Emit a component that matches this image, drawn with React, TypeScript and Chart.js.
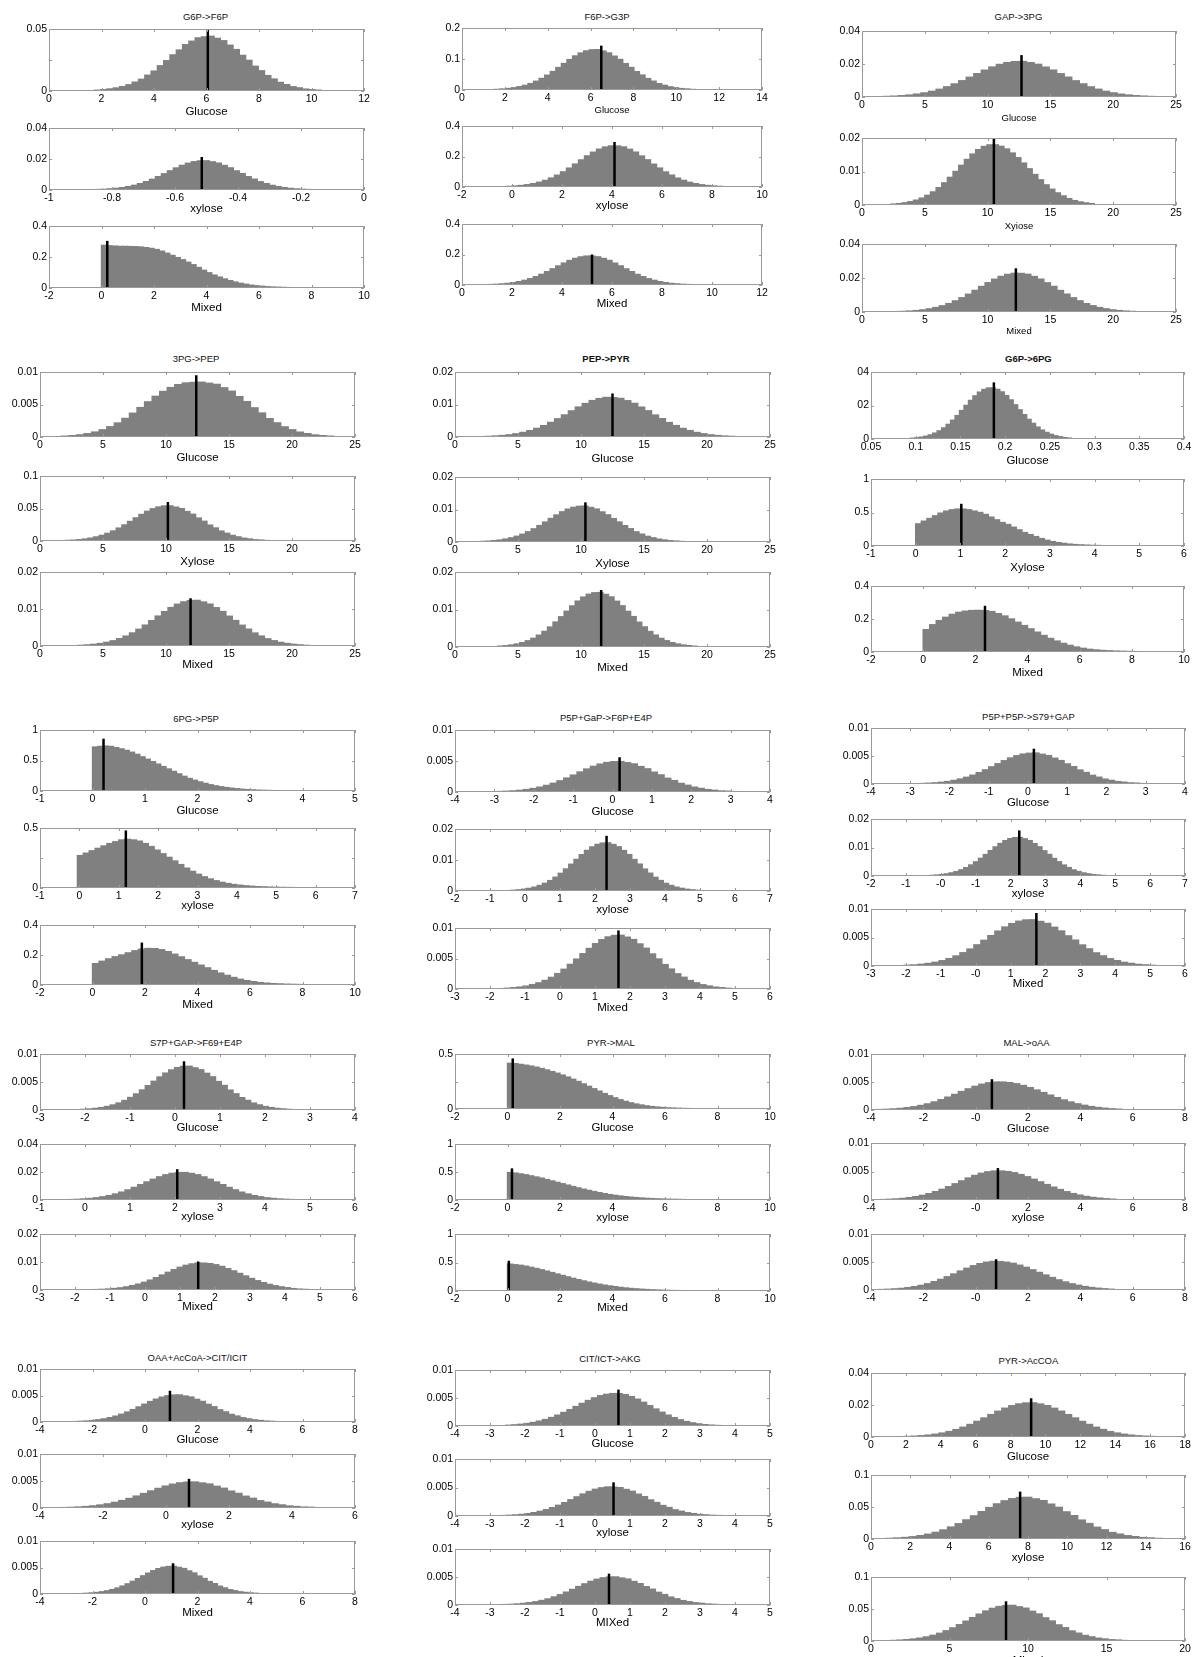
import React, { useEffect, useRef } from "react";
import { Chart, registerables } from "chart.js";

Chart.register(...registerables);

const FONT = "'Liberation Sans', Arial, Helvetica, sans-serif";
const FRAME = "#9a9a9a";
const BAR = "#808080";

// ---------------- titles & axis labels ----------------
const REACTIONS = [
  "G6P->F6P", "F6P->G3P", "GAP->3PG",
  "3PG->PEP", "PEP->PYR", "G6P->6PG",
  "6PG->P5P", "P5P+GaP->F6P+E4P", "P5P+P5P->S79+GAP",
  "S7P+GAP->F69+E4P", "PYR->MAL", "MAL->oAA",
  "OAA+AcCoA->CIT/ICIT", "CIT/ICT->AKG", "PYR->AcCOA",
];
const BOLD_TITLES = ["PEP->PYR", "G6P->6PG"];
const XLABELS = [
  ["Glucose", "xylose", "Mixed"], ["Glucose", "xylose", "Mixed"], ["Glucose", "Xyiose", "Mixed"],
  ["Glucose", "Xylose", "Mixed"], ["Glucose", "Xylose", "Mixed"], ["Glucose", "Xylose", "Mixed"],
  ["Glucose", "xylose", "Mixed"], ["Glucose", "xylose", "Mixed"], ["Glucose", "xylose", "Mixed"],
  ["Glucose", "xylose", "Mixed"], ["Glucose", "xylose", "Mixed"], ["Glucose", "xylose", ""],
  ["Glucose", "xylose", "Mixed"], ["Glucose", "xylose", "MIXed"], ["Glucose", "xylose", "Mixed"],
];

// ---------------- tick label sets ----------------
const T_0_12 = ["0", "2", "4", "6", "8", "10", "12"];
const T_M1_0 = ["-1", "-0.8", "-0.6", "-0.4", "-0.2", "0"];
const T_M2_10 = ["-2", "0", "2", "4", "6", "8", "10"];
const T_0_14 = ["0", "2", "4", "6", "8", "10", "12", "14"];
const T_0_25 = ["0", "5", "10", "15", "20", "25"];
const T_005_04 = ["0.05", "0.1", "0.15", "0.2", "0.25", "0.3", "0.35", "0.4"];
const T_M1_6 = ["-1", "0", "1", "2", "3", "4", "5", "6"];
const T_M1_5 = ["-1", "0", "1", "2", "3", "4", "5"];
const T_M1_7 = ["-1", "0", "1", "2", "3", "4", "5", "6", "7"];
const T_M4_4 = ["-4", "-3", "-2", "-1", "0", "1", "2", "3", "4"];
const T_M2_7 = ["-2", "-1", "0", "1", "2", "3", "4", "5", "6", "7"];
const T_M3_6 = ["-3", "-2", "-1", "0", "1", "2", "3", "4", "5", "6"];
const T_M2_7_B = ["-2", "-1", "-0", "-1", "2", "3", "4", "5", "6", "7"];
const T_M3_6_B = ["-3", "-2", "-1", "-0", "1", "2", "3", "4", "5", "6"];
const T_M3_4 = ["-3", "-2", "-1", "0", "1", "2", "3", "4"];
const T_M4_8 = ["-4", "-2", "0", "2", "4", "6", "8"];
const T_M4_8_B = ["-4", "-2", "-0", "2", "4", "6", "8"];
const T_M4_6 = ["-4", "-2", "0", "2", "4", "6"];
const T_M4_5 = ["-4", "-3", "-2", "-1", "0", "1", "2", "3", "4", "5"];
const T_0_18 = ["0", "2", "4", "6", "8", "10", "12", "14", "16", "18"];
const T_0_16 = ["0", "2", "4", "6", "8", "10", "12", "14", "16"];
const T_0_20 = ["0", "5", "10", "15", "20"];

const Y_005 = ["0", "", "0.05"];
const Y_004 = ["0", "0.02", "0.04"];
const Y_04 = ["0", "0.2", "0.4"];
const Y_02 = ["0", "0.1", "0.2"];
const Y_002 = ["0", "0.01", "0.02"];
const Y_001 = ["0", "0.005", "0.01"];
const Y_01 = ["0", "0.05", "0.1"];
const Y_04B = ["0", "02", "04"];
const Y_1 = ["0", "0.5", "1"];
const Y_05 = ["0", "", "0.5"];

// per panel (15 reactions x Glucose / xylose / Mixed)
const X_TICKS = [
  T_0_12, T_M1_0, T_M2_10,
  T_0_14, T_M2_10, T_0_12,
  T_0_25, T_0_25, T_0_25,
  T_0_25, T_0_25, T_0_25,
  T_0_25, T_0_25, T_0_25,
  T_005_04, T_M1_6, T_M2_10,
  T_M1_5, T_M1_7, T_M2_10,
  T_M4_4, T_M2_7, T_M3_6,
  T_M4_4, T_M2_7_B, T_M3_6_B,
  T_M3_4, T_M1_6, T_M3_6,
  T_M2_10, T_M2_10, T_M2_10,
  T_M4_8_B, T_M4_8_B, T_M4_8_B,
  T_M4_8, T_M4_6, T_M4_8,
  T_M4_5, T_M4_5, T_M4_5,
  T_0_18, T_0_16, T_0_20,
];
const X_RANGES = [
  [0, 12], [-1, 0], [-2, 10],
  [0, 14], [-2, 10], [0, 12],
  [0, 25], [0, 25], [0, 25],
  [0, 25], [0, 25], [0, 25],
  [0, 25], [0, 25], [0, 25],
  [0.05, 0.4], [-1, 6], [-2, 10],
  [-1, 5], [-1, 7], [-2, 10],
  [-4, 4], [-2, 7], [-3, 6],
  [-4, 4], [-2, 7], [-3, 6],
  [-3, 4], [-1, 6], [-3, 6],
  [-2, 10], [-2, 10], [-2, 10],
  [-4, 8], [-4, 8], [-4, 8],
  [-4, 8], [-4, 6], [-4, 8],
  [-4, 5], [-4, 5], [-4, 5],
  [0, 18], [0, 16], [0, 20],
];
const Y_MAX = [
  0.05, 0.04, 0.4,
  0.2, 0.4, 0.4,
  0.04, 0.02, 0.04,
  0.01, 0.1, 0.02,
  0.02, 0.02, 0.02,
  0.04, 1, 0.4,
  1, 0.5, 0.4,
  0.01, 0.02, 0.01,
  0.01, 0.02, 0.01,
  0.01, 0.04, 0.02,
  0.5, 1, 1,
  0.01, 0.01, 0.01,
  0.01, 0.01, 0.01,
  0.01, 0.01, 0.01,
  0.04, 0.1, 0.1,
];
const Y_TICKS = [
  Y_005, Y_004, Y_04,
  Y_02, Y_04, Y_04,
  Y_004, Y_002, Y_004,
  Y_001, Y_01, Y_002,
  Y_002, Y_002, Y_002,
  Y_04B, Y_1, Y_04,
  Y_1, Y_05, Y_04,
  Y_001, Y_002, Y_001,
  Y_001, Y_002, Y_001,
  Y_001, Y_004, Y_002,
  Y_05, Y_1, Y_1,
  Y_001, Y_001, Y_001,
  Y_001, Y_001, Y_001,
  Y_001, Y_001, Y_001,
  Y_004, Y_01, Y_01,
];

// ---------------- histogram bins: [first left edge, bin width] ----------------
const BINS = [
  [1.73, 0.24], [-0.852, 0.019], [0, 0.2],
  [1.52, 0.26], [-0.22, 0.24], [1.05, 0.225],
  [1.7, 0.6], [2.3, 0.45], [3.04, 0.52],
  [1.7, 0.6], [2.0, 0.45], [3.02, 0.51],
  [2.4, 0.55], [2.0, 0.45], [3.38, 0.44],
  [0.094, 0.005], [0, 0.125], [0, 0.25],
  [0, 0.1], [-0.05, 0.15], [0, 0.25],
  [-2.94, 0.17], [-0.4, 0.15], [-1.59, 0.18],
  [-2.76, 0.16], [-0.32, 0.14], [-2.05, 0.2],
  [-2.09, 0.13], [-0.37, 0.14], [-1.46, 0.17],
  [0, 0.2], [0, 0.2], [0, 0.2],
  [-3.78, 0.26], [-3.65, 0.25], [-3.7, 0.25],
  [-2.76, 0.22], [-3.34, 0.23], [-2.51, 0.195],
  [-2.55, 0.175], [-2.7, 0.175], [-2.65, 0.175],
  [1.9, 0.4], [0.78, 0.39], [1.24, 0.42],
];

// ---------------- reference markers: [x, top] ----------------
const MARKERS = [
  [6.05, 0.0495], [-0.515, 0.0213], [0.22, 0.304],
  [6.5, 0.143], [4.1, 0.295], [5.2, 0.2],
  [12.7, 0.0254], [10.5, 0.02], [12.25, 0.0257],
  [12.4, 0.0095], [10.15, 0.06], [11.95, 0.0129],
  [12.5, 0.0134], [10.35, 0.0122], [11.6, 0.0152],
  [0.1874, 0.0338], [1.02, 0.63], [2.37, 0.28],
  [0.21, 0.857], [1.18, 0.48], [1.88, 0.283],
  [0.18, 0.0056], [2.33, 0.0178], [1.67, 0.0096],
  [0.15, 0.0063], [2.25, 0.016], [1.74, 0.0093],
  [0.2, 0.0087], [2.05, 0.022], [1.52, 0.0102],
  [0.2, 0.46], [0.17, 0.565], [0.05, 0.53],
  [0.62, 0.0055], [0.85, 0.0056], [0.78, 0.0055],
  [0.95, 0.0059], [0.73, 0.0054], [1.07, 0.0058],
  [0.67, 0.0065], [0.53, 0.0059], [0.4, 0.0056],
  [9.18, 0.0242], [7.6, 0.074], [8.6, 0.062],
];

// ---------------- histogram heights ----------------
const H_G6P_F6P_GLU = [0.0006, 0.0010, 0.0016, 0.0024, 0.0035, 0.0050, 0.0071, 0.0094, 0.0127, 0.0160, 0.0203, 0.0244, 0.0291, 0.0330, 0.0373, 0.0401, 0.0428, 0.0436, 0.0441, 0.0424, 0.0405, 0.0369, 0.0334, 0.0287, 0.0247, 0.0199, 0.0163, 0.0124, 0.0096, 0.0069, 0.0051, 0.0034, 0.0025, 0.0015, 0.0010, 0.0006];
const H_G6P_F6P_XYL = [0.00027, 0.00043, 0.00067, 0.00101, 0.0015, 0.00215, 0.00299, 0.00407, 0.00537, 0.0069, 0.00861, 0.01045, 0.01235, 0.01419, 0.01586, 0.01724, 0.01822, 0.01873, 0.0188, 0.01815, 0.0173, 0.0158, 0.01425, 0.0123, 0.0105, 0.00855, 0.00695, 0.0053, 0.0041, 0.00295, 0.00218, 0.00148, 0.00102, 0.00066, 0.00044, 0.00026];
const H_G6P_F6P_MIX = [0.275, 0.272, 0.270, 0.268, 0.268, 0.267, 0.266, 0.264, 0.260, 0.255, 0.248, 0.237, 0.224, 0.210, 0.196, 0.182, 0.166, 0.150, 0.132, 0.114, 0.098, 0.083, 0.070, 0.058, 0.047, 0.038, 0.030, 0.024, 0.018, 0.014, 0.011, 0.008, 0.006, 0.0045, 0.0035, 0.0026, 0.002, 0.0015, 0.0011, 0.0008, 0.0006, 0.0004];

const H_F6P_G3P_GLU = [0.0018, 0.0030, 0.0046, 0.0070, 0.0103, 0.0148, 0.0207, 0.0281, 0.0372, 0.0477, 0.0595, 0.0723, 0.0854, 0.0981, 0.1097, 0.1192, 0.1260, 0.1295, 0.1300, 0.1255, 0.1195, 0.1090, 0.0985, 0.0850, 0.0725, 0.0590, 0.0480, 0.0368, 0.0283, 0.0204, 0.0150, 0.0101, 0.0071, 0.0045, 0.0031, 0.0017];
const H_F6P_G3P_XYL = [0.0038, 0.0062, 0.0096, 0.0146, 0.0215, 0.0308, 0.0430, 0.0584, 0.0772, 0.0991, 0.1236, 0.1501, 0.1774, 0.2038, 0.2278, 0.2476, 0.2617, 0.2690, 0.2685, 0.2625, 0.2470, 0.2285, 0.2030, 0.1780, 0.1495, 0.1240, 0.0985, 0.0776, 0.0580, 0.0433, 0.0305, 0.0217, 0.0145, 0.0097, 0.0061, 0.0039];
const H_F6P_G3P_MIX = [0.0027, 0.0043, 0.0068, 0.0102, 0.0151, 0.0217, 0.0302, 0.0411, 0.0543, 0.0697, 0.0870, 0.1056, 0.1248, 0.1434, 0.1603, 0.1742, 0.1841, 0.1893, 0.1890, 0.1845, 0.1738, 0.1608, 0.1430, 0.1252, 0.1052, 0.0874, 0.0693, 0.0546, 0.0409, 0.0304, 0.0215, 0.0152, 0.0101, 0.0069, 0.0042, 0.0028];

const H_GAP_3PG_GLU = [0.00031, 0.00049, 0.00077, 0.00116, 0.00171, 0.00245, 0.00342, 0.00465, 0.00615, 0.00789, 0.00984, 0.01195, 0.01413, 0.01623, 0.01814, 0.01972, 0.02084, 0.02142, 0.0215, 0.0208, 0.01978, 0.01808, 0.01628, 0.01408, 0.012, 0.0098, 0.00792, 0.00612, 0.00467, 0.0034, 0.00247, 0.00169, 0.00117, 0.00076, 0.0005, 0.0003];
const H_GAP_3PG_XYL = [0.00026, 0.00041, 0.00064, 0.00097, 0.00143, 0.00205, 0.00287, 0.00389, 0.00515, 0.0066, 0.00824, 0.01001, 0.01183, 0.01359, 0.01519, 0.01651, 0.01745, 0.01794, 0.01794, 0.0175, 0.0167, 0.0155, 0.0141, 0.0125, 0.0108, 0.0091, 0.0075, 0.006, 0.0047, 0.0036, 0.0027, 0.0019, 0.0013, 0.0009, 0.0006, 0.0004];
const H_GAP_3PG_MIX = [0.00032, 0.00052, 0.00081, 0.00123, 0.00181, 0.0026, 0.00363, 0.00493, 0.00652, 0.00837, 0.01044, 0.01268, 0.01498, 0.01721, 0.01924, 0.02091, 0.0221, 0.02272, 0.02265, 0.02215, 0.02085, 0.0193, 0.01716, 0.01503, 0.01263, 0.01048, 0.00833, 0.00655, 0.0049, 0.00366, 0.00258, 0.00183, 0.00121, 0.00082, 0.00051, 0.00033];

const H_3PG_PEP_GLU = [0.00012, 0.0002, 0.00032, 0.0005, 0.00075, 0.0011, 0.00157, 0.00215, 0.00285, 0.00365, 0.00452, 0.0054, 0.00625, 0.007, 0.0076, 0.00805, 0.0083, 0.00838, 0.00842, 0.00826, 0.00809, 0.00756, 0.00704, 0.00621, 0.00544, 0.00448, 0.00368, 0.00282, 0.00217, 0.00155, 0.00111, 0.00074, 0.00051, 0.00031, 0.0002, 0.00012];
const H_3PG_PEP_XYL = [0.0008, 0.0012, 0.0019, 0.0029, 0.0043, 0.0062, 0.0086, 0.0117, 0.0154, 0.0198, 0.0247, 0.0300, 0.0355, 0.0408, 0.0456, 0.0495, 0.0523, 0.0538, 0.0540, 0.0520, 0.0498, 0.0452, 0.0411, 0.0352, 0.0303, 0.0244, 0.0200, 0.0152, 0.0118, 0.0085, 0.0063, 0.0042, 0.0030, 0.0018, 0.0013, 0.0007];
const H_3PG_PEP_MIX = [0.00017, 0.00028, 0.00044, 0.00066, 0.00098, 0.0014, 0.00196, 0.00266, 0.00352, 0.00451, 0.00563, 0.00684, 0.00808, 0.00928, 0.01038, 0.01128, 0.01192, 0.01226, 0.01232, 0.01188, 0.01131, 0.01034, 0.00931, 0.00804, 0.00687, 0.0056, 0.00454, 0.00349, 0.00268, 0.00194, 0.00141, 0.00097, 0.00067, 0.00043, 0.00029, 0.00016];

const H_PEP_PYR_GLU = [0.00017, 0.00028, 0.00043, 0.00066, 0.00097, 0.00139, 0.00194, 0.00264, 0.00349, 0.00448, 0.00559, 0.00678, 0.00802, 0.00921, 0.01029, 0.01119, 0.01182, 0.01216, 0.0121, 0.01186, 0.01115, 0.01033, 0.00918, 0.00806, 0.00675, 0.00562, 0.00445, 0.00351, 0.00262, 0.00196, 0.00138, 0.00098, 0.00065, 0.00044, 0.00027, 0.00018];
const H_PEP_PYR_XYL = [0.00016, 0.00025, 0.00039, 0.00059, 0.00088, 0.00126, 0.00175, 0.00238, 0.00314, 0.00404, 0.00504, 0.00612, 0.00723, 0.0083, 0.00928, 0.01009, 0.01066, 0.01096, 0.01102, 0.01062, 0.01012, 0.00924, 0.00834, 0.00719, 0.00615, 0.00501, 0.00407, 0.00311, 0.0024, 0.00173, 0.00127, 0.00087, 0.0006, 0.00038, 0.00026, 0.00015];
const H_PEP_PYR_MIX = [0.00021, 0.00033, 0.00052, 0.00078, 0.00115, 0.00165, 0.00231, 0.00314, 0.00415, 0.00532, 0.00664, 0.00806, 0.00953, 0.01094, 0.01223, 0.0133, 0.01405, 0.01445, 0.0145, 0.01401, 0.01334, 0.01219, 0.01098, 0.00949, 0.0081, 0.0066, 0.00535, 0.00412, 0.00316, 0.00229, 0.00166, 0.00114, 0.00079, 0.00051, 0.00034, 0.0002];

const H_G6P_6PG_GLU = [0.00043, 0.0007, 0.00109, 0.00164, 0.00243, 0.00348, 0.00486, 0.0066, 0.00872, 0.01119, 0.01396, 0.01696, 0.02004, 0.02302, 0.02573, 0.02797, 0.02956, 0.0304, 0.03045, 0.0296, 0.0281, 0.0259, 0.0233, 0.0204, 0.0174, 0.0145, 0.0117, 0.0093, 0.0071, 0.0053, 0.0039, 0.0028, 0.0019, 0.0013, 0.0008, 0.0005];
const H_G6P_6PG_XYL = [0.33, 0.37, 0.41, 0.45, 0.49, 0.52, 0.54, 0.55, 0.55, 0.54, 0.52, 0.50, 0.47, 0.43, 0.39, 0.35, 0.32, 0.28, 0.24, 0.20, 0.17, 0.14, 0.11, 0.085, 0.065, 0.05, 0.038, 0.028, 0.021, 0.016, 0.012, 0.009, 0.007, 0.005, 0.004, 0.003];
const H_G6P_6PG_MIX = [0.135, 0.165, 0.19, 0.21, 0.228, 0.24, 0.247, 0.251, 0.252, 0.25, 0.245, 0.232, 0.218, 0.2, 0.18, 0.16, 0.14, 0.12, 0.1, 0.082, 0.066, 0.052, 0.04, 0.03, 0.022, 0.016, 0.012, 0.009, 0.007, 0.005, 0.004, 0.003, 0.0022, 0.0016, 0.0012, 0.0008];

const H_6PG_P5P_GLU = [0.72, 0.73, 0.735, 0.73, 0.71, 0.69, 0.665, 0.635, 0.60, 0.56, 0.52, 0.48, 0.44, 0.40, 0.36, 0.32, 0.28, 0.24, 0.205, 0.175, 0.148, 0.124, 0.102, 0.084, 0.069, 0.056, 0.045, 0.036, 0.028, 0.022, 0.017, 0.013, 0.010, 0.008, 0.006, 0.005, 0.004, 0.003, 0.0025, 0.002, 0.0015, 0.001];
const H_6PG_P5P_XYL = [0.27, 0.29, 0.31, 0.33, 0.35, 0.37, 0.385, 0.40, 0.405, 0.40, 0.39, 0.37, 0.345, 0.315, 0.285, 0.255, 0.225, 0.195, 0.165, 0.138, 0.114, 0.093, 0.075, 0.06, 0.047, 0.037, 0.029, 0.023, 0.018, 0.014, 0.011, 0.009, 0.007, 0.0055, 0.0045, 0.0036, 0.003, 0.0025, 0.002, 0.0016, 0.0013, 0.001];
const H_6PG_P5P_MIX = [0.142, 0.158, 0.174, 0.188, 0.200, 0.214, 0.228, 0.238, 0.243, 0.242, 0.235, 0.222, 0.205, 0.187, 0.168, 0.150, 0.132, 0.114, 0.096, 0.079, 0.064, 0.050, 0.038, 0.029, 0.022, 0.016, 0.012, 0.009, 0.007, 0.005, 0.004, 0.003, 0.0022, 0.0016, 0.0012, 0.0008];

const H_P5PGAP_GLU = [0.00007, 0.00011, 0.00017, 0.00026, 0.00039, 0.00056, 0.00078, 0.00106, 0.0014, 0.0018, 0.00224, 0.00272, 0.00322, 0.0037, 0.00413, 0.00449, 0.00475, 0.00488, 0.0049, 0.00472, 0.00452, 0.0041, 0.00373, 0.00319, 0.00275, 0.00221, 0.00183, 0.00138, 0.00108, 0.00077, 0.00057, 0.00038, 0.00027, 0.00016, 0.00012, 0.00006];
const H_P5PGAP_XYL = [0.00022, 0.00035, 0.00055, 0.00084, 0.00123, 0.00177, 0.00247, 0.00335, 0.00443, 0.00569, 0.0071, 0.00862, 0.01018, 0.0117, 0.01308, 0.01421, 0.01502, 0.01545, 0.01552, 0.01498, 0.01425, 0.01304, 0.01174, 0.01014, 0.00866, 0.00706, 0.00572, 0.0044, 0.00337, 0.00245, 0.00178, 0.00122, 0.00085, 0.00054, 0.00036, 0.00021];
const H_P5PGAP_MIX = [0.00012, 0.0002, 0.00031, 0.00047, 0.0007, 0.001, 0.0014, 0.0019, 0.00252, 0.00323, 0.00403, 0.00489, 0.00578, 0.00664, 0.00742, 0.00807, 0.00853, 0.00877, 0.0088, 0.00849, 0.0081, 0.00738, 0.00667, 0.00574, 0.00492, 0.004, 0.00326, 0.00249, 0.00192, 0.00138, 0.00101, 0.00069, 0.00048, 0.0003, 0.00021, 0.00011];

const H_P5PP5P_GLU = [0.00008, 0.00013, 0.0002, 0.0003, 0.00044, 0.00063, 0.00088, 0.00119, 0.00157, 0.00202, 0.00252, 0.00306, 0.00361, 0.00415, 0.00464, 0.00504, 0.00533, 0.00548, 0.00552, 0.0053, 0.00507, 0.0046, 0.00418, 0.00358, 0.00309, 0.00249, 0.00205, 0.00154, 0.00121, 0.00086, 0.00064, 0.00043, 0.00031, 0.00019, 0.00014, 0.00007];
const H_P5PP5P_XYL = [0.00019, 0.00031, 0.00048, 0.00073, 0.00107, 0.00154, 0.00215, 0.00292, 0.00386, 0.00495, 0.00618, 0.00751, 0.00887, 0.01019, 0.01139, 0.01238, 0.01308, 0.01345, 0.0135, 0.01304, 0.01242, 0.01135, 0.01023, 0.00883, 0.00755, 0.00614, 0.00498, 0.00383, 0.00294, 0.00213, 0.00155, 0.00106, 0.00074, 0.00047, 0.00032, 0.00018];
const H_P5PP5P_MIX = [0.00012, 0.00018, 0.00029, 0.00044, 0.00064, 0.00092, 0.00129, 0.00175, 0.00232, 0.00297, 0.00371, 0.0045, 0.00532, 0.00611, 0.00683, 0.00743, 0.00785, 0.00807, 0.0081, 0.00781, 0.00746, 0.00679, 0.00614, 0.00528, 0.00453, 0.00368, 0.003, 0.00229, 0.00177, 0.00127, 0.00093, 0.00063, 0.00045, 0.00028, 0.00019, 0.00011];

const H_S7P_GAP_GLU = [0.00011, 0.00018, 0.00028, 0.00042, 0.00062, 0.00089, 0.00124, 0.00169, 0.00223, 0.00286, 0.00357, 0.00434, 0.00512, 0.00589, 0.00658, 0.00715, 0.00756, 0.00777, 0.0078, 0.00752, 0.00718, 0.00654, 0.00592, 0.00508, 0.00437, 0.00354, 0.00289, 0.0022, 0.00171, 0.00122, 0.0009, 0.00061, 0.00043, 0.00027, 0.00019, 0.0001];
const H_S7P_GAP_XYL = [0.00028, 0.00045, 0.0007, 0.00106, 0.00156, 0.00224, 0.00312, 0.00424, 0.0056, 0.00719, 0.00897, 0.0109, 0.01288, 0.01479, 0.01654, 0.01797, 0.019, 0.01953, 0.0196, 0.01895, 0.01801, 0.0165, 0.01483, 0.01284, 0.01094, 0.00893, 0.00722, 0.00557, 0.00426, 0.0031, 0.00225, 0.00155, 0.00107, 0.00069, 0.00046, 0.00027];
const H_S7P_GAP_MIX = [0.00014, 0.00022, 0.00034, 0.00052, 0.00076, 0.0011, 0.00153, 0.00208, 0.00274, 0.00352, 0.00439, 0.00534, 0.00631, 0.00725, 0.0081, 0.0088, 0.0093, 0.00957, 0.00957, 0.0094, 0.009, 0.0084, 0.0076, 0.0068, 0.0059, 0.005, 0.0041, 0.0033, 0.0026, 0.002, 0.0015, 0.0011, 0.0008, 0.0005, 0.0003, 0.0002];

const H_PYR_MAL_GLU = [0.415, 0.412, 0.405, 0.398, 0.39, 0.38, 0.368, 0.355, 0.34, 0.325, 0.308, 0.29, 0.27, 0.25, 0.228, 0.206, 0.184, 0.162, 0.14, 0.12, 0.101, 0.084, 0.069, 0.056, 0.045, 0.036, 0.028, 0.022, 0.017, 0.013, 0.01, 0.008, 0.006, 0.0045, 0.0035, 0.0027, 0.002, 0.0015, 0.0011, 0.0008];
const H_PYR_MAL_XYL = [0.49, 0.48, 0.465, 0.45, 0.43, 0.41, 0.39, 0.365, 0.34, 0.315, 0.29, 0.265, 0.24, 0.215, 0.192, 0.17, 0.15, 0.13, 0.112, 0.096, 0.082, 0.07, 0.059, 0.05, 0.042, 0.035, 0.029, 0.024, 0.02, 0.016, 0.013, 0.011, 0.009, 0.007, 0.0055, 0.0045, 0.0035, 0.0028, 0.0022, 0.0017];
const H_PYR_MAL_MIX = [0.47, 0.46, 0.45, 0.435, 0.415, 0.395, 0.372, 0.348, 0.323, 0.297, 0.272, 0.247, 0.222, 0.198, 0.176, 0.155, 0.136, 0.118, 0.102, 0.088, 0.075, 0.063, 0.053, 0.044, 0.037, 0.03, 0.025, 0.02, 0.016, 0.013, 0.01, 0.008, 0.0065, 0.005, 0.004, 0.003, 0.0024, 0.0018, 0.0014, 0.001];

const H_MAL_OAA_GLU = [0.00007, 0.00011, 0.00018, 0.00027, 0.0004, 0.00057, 0.0008, 0.00108, 0.00143, 0.00183, 0.00229, 0.00278, 0.00329, 0.00377, 0.00422, 0.00459, 0.00485, 0.00498, 0.00498, 0.00488, 0.00468, 0.00437, 0.00399, 0.00356, 0.00311, 0.00265, 0.0022, 0.00179, 0.00142, 0.0011, 0.00083, 0.00061, 0.00044, 0.00031, 0.00021, 0.00014];
const H_MAL_OAA_XYL = [0.00007, 0.00012, 0.00018, 0.00027, 0.00041, 0.00058, 0.00081, 0.0011, 0.00146, 0.00187, 0.00233, 0.00284, 0.00335, 0.00385, 0.0043, 0.00468, 0.00494, 0.00508, 0.00508, 0.00498, 0.00478, 0.00446, 0.00407, 0.00363, 0.00317, 0.0027, 0.00225, 0.00183, 0.00145, 0.00112, 0.00085, 0.00062, 0.00045, 0.00032, 0.00022, 0.00014];
const H_MAL_OAA_MIX = [0.00008, 0.00012, 0.00019, 0.00028, 0.00042, 0.00059, 0.00082, 0.00111, 0.00148, 0.00189, 0.00236, 0.00286, 0.00338, 0.00387, 0.00433, 0.0047, 0.00496, 0.0051, 0.00507, 0.00495, 0.00475, 0.00442, 0.00404, 0.0036, 0.00313, 0.00267, 0.00222, 0.0018, 0.00143, 0.0011, 0.00084, 0.00061, 0.00044, 0.00031, 0.00021, 0.00013];

const H_OAA_CIT_GLU = [0.00007, 0.00012, 0.00018, 0.00027, 0.00041, 0.00058, 0.00081, 0.0011, 0.00146, 0.00187, 0.00233, 0.00284, 0.00335, 0.00385, 0.0043, 0.00468, 0.00494, 0.00508, 0.0051, 0.0049, 0.00471, 0.00427, 0.00388, 0.00332, 0.00287, 0.0023, 0.0019, 0.00143, 0.00112, 0.0008, 0.00059, 0.0004, 0.00028, 0.00017, 0.00012, 0.00006];
const H_OAA_CIT_XYL = [0.00007, 0.00011, 0.00017, 0.00026, 0.00038, 0.00055, 0.00076, 0.00104, 0.00137, 0.00176, 0.0022, 0.00267, 0.00315, 0.00362, 0.00405, 0.0044, 0.00465, 0.00478, 0.0048, 0.00462, 0.00443, 0.00401, 0.00365, 0.00312, 0.0027, 0.00217, 0.00179, 0.00134, 0.00106, 0.00075, 0.00056, 0.00037, 0.00027, 0.00016, 0.00012, 0.00006];
const H_OAA_CIT_MIX = [0.00007, 0.00012, 0.00019, 0.00028, 0.00041, 0.00059, 0.00083, 0.00112, 0.00149, 0.00191, 0.00238, 0.00289, 0.00342, 0.00392, 0.00439, 0.00477, 0.00504, 0.00518, 0.0052, 0.00501, 0.0048, 0.00435, 0.00396, 0.00338, 0.00292, 0.00235, 0.00194, 0.00146, 0.00114, 0.00081, 0.0006, 0.0004, 0.00029, 0.00018, 0.00013, 0.00006];

const H_CIT_AKG_GLU = [0.00013, 0.0002, 0.0003, 0.00044, 0.00062, 0.00086, 0.00115, 0.00151, 0.00193, 0.00241, 0.00292, 0.00347, 0.00403, 0.00455, 0.00502, 0.0054, 0.00565, 0.00578, 0.00578, 0.0056, 0.00525, 0.00478, 0.00422, 0.00362, 0.00302, 0.00245, 0.00193, 0.00148, 0.0011, 0.00079, 0.00055, 0.00037, 0.00024, 0.00015, 0.00009, 0.00005];
const H_CIT_AKG_XYL = [0.00007, 0.00012, 0.00018, 0.00027, 0.00041, 0.00058, 0.00081, 0.0011, 0.00146, 0.00187, 0.00233, 0.00284, 0.00335, 0.00385, 0.0043, 0.00468, 0.00494, 0.00508, 0.00505, 0.00497, 0.00465, 0.00433, 0.00382, 0.00338, 0.00281, 0.00236, 0.00184, 0.00148, 0.00108, 0.00083, 0.00057, 0.00042, 0.00026, 0.00019, 0.00011, 0.00008];
const H_CIT_AKG_MIX = [0.00007, 0.00011, 0.00018, 0.00027, 0.0004, 0.00057, 0.0008, 0.00108, 0.00143, 0.00183, 0.00229, 0.00278, 0.00329, 0.00377, 0.00422, 0.00459, 0.00485, 0.00498, 0.005, 0.00481, 0.00462, 0.00419, 0.0038, 0.00326, 0.00281, 0.00226, 0.00186, 0.0014, 0.0011, 0.00078, 0.00058, 0.00039, 0.00028, 0.00017, 0.00012, 0.00006];

const H_PYR_ACCOA_GLU = [0.0003, 0.00049, 0.00076, 0.00115, 0.0017, 0.00243, 0.00339, 0.00461, 0.00609, 0.00781, 0.00975, 0.01184, 0.01399, 0.01608, 0.01797, 0.01953, 0.02064, 0.02123, 0.0213, 0.0206, 0.01957, 0.01793, 0.01612, 0.01395, 0.01188, 0.00971, 0.00784, 0.00606, 0.00463, 0.00337, 0.00244, 0.00169, 0.00116, 0.00075, 0.0005, 0.00029];
const H_PYR_ACCOA_XYL = [0.0009, 0.0015, 0.0023, 0.0035, 0.0052, 0.0074, 0.0103, 0.0141, 0.0186, 0.0238, 0.0298, 0.0361, 0.0427, 0.0491, 0.0548, 0.0596, 0.0630, 0.0648, 0.0650, 0.0626, 0.0599, 0.0544, 0.0494, 0.0423, 0.0364, 0.0295, 0.0241, 0.0183, 0.0143, 0.0101, 0.0075, 0.0051, 0.0036, 0.0022, 0.0016, 0.0008];
const H_PYR_ACCOA_MIX = [0.0008, 0.0013, 0.0020, 0.0030, 0.0044, 0.0063, 0.0088, 0.0120, 0.0159, 0.0204, 0.0254, 0.0309, 0.0365, 0.0419, 0.0468, 0.0509, 0.0538, 0.0553, 0.0556, 0.0534, 0.0512, 0.0464, 0.0422, 0.0361, 0.0312, 0.0251, 0.0207, 0.0156, 0.0122, 0.0086, 0.0064, 0.0043, 0.0031, 0.0019, 0.0014, 0.0007];

const HEIGHTS = [
  H_G6P_F6P_GLU, H_G6P_F6P_XYL, H_G6P_F6P_MIX,
  H_F6P_G3P_GLU, H_F6P_G3P_XYL, H_F6P_G3P_MIX,
  H_GAP_3PG_GLU, H_GAP_3PG_XYL, H_GAP_3PG_MIX,
  H_3PG_PEP_GLU, H_3PG_PEP_XYL, H_3PG_PEP_MIX,
  H_PEP_PYR_GLU, H_PEP_PYR_XYL, H_PEP_PYR_MIX,
  H_G6P_6PG_GLU, H_G6P_6PG_XYL, H_G6P_6PG_MIX,
  H_6PG_P5P_GLU, H_6PG_P5P_XYL, H_6PG_P5P_MIX,
  H_P5PGAP_GLU, H_P5PGAP_XYL, H_P5PGAP_MIX,
  H_P5PP5P_GLU, H_P5PP5P_XYL, H_P5PP5P_MIX,
  H_S7P_GAP_GLU, H_S7P_GAP_XYL, H_S7P_GAP_MIX,
  H_PYR_MAL_GLU, H_PYR_MAL_XYL, H_PYR_MAL_MIX,
  H_MAL_OAA_GLU, H_MAL_OAA_XYL, H_MAL_OAA_MIX,
  H_OAA_CIT_GLU, H_OAA_CIT_XYL, H_OAA_CIT_MIX,
  H_CIT_AKG_GLU, H_CIT_AKG_XYL, H_CIT_AKG_MIX,
  H_PYR_ACCOA_GLU, H_PYR_ACCOA_XYL, H_PYR_ACCOA_MIX,
];

// ---------------- layout (pixels) ----------------
const GROUP_COLS = [
  [[49, 363.6], [462.3, 762.4], [862.2, 1176.4]],
  [[39.8, 354.8], [455.4, 769.7], [870.6, 1184]],
  [[39.8, 354.8], [455.4, 769.7], [870.6, 1184.6]],
  [[39.8, 354.8], [455.4, 769.7], [870.6, 1184.6]],
  [[39.8, 354.8], [455.4, 769.7], [870.6, 1184.6]],
];
const GROUP_ROWS = [
  [[[29.3, 90.7], [127.7, 189.7], [225.7, 288.3]], [[28.3, 90], [126.3, 187.3], [224, 285]], [[30.7, 97.3], [137.7, 204.7], [244.3, 311.7]]],
  [[[371.7, 436.7], [476, 541.3], [572.3, 645.7]], [[371.7, 437.3], [476.7, 542.3], [572.3, 646.7]], [[372.3, 439], [479.3, 545.7], [585.7, 652.3]]],
  [[[730, 790.7], [827.7, 888.3], [925, 985.3]], [[730, 791.7], [829.3, 890.7], [928, 989.3]], [[728.3, 784.3], [818.7, 875.7], [909.3, 965.7]]],
  [[[1053.7, 1110], [1144, 1200.3], [1234.3, 1290.3]], [[1053.7, 1109.3], [1144, 1200], [1234.3, 1290.7]], [[1053.7, 1110], [1143.3, 1200.3], [1234, 1290]]],
  [[[1368.7, 1422.3], [1454.3, 1508.3], [1541, 1594.3]], [[1370, 1425.7], [1459.3, 1515.7], [1549.3, 1605.3]], [[1373.3, 1436.7], [1475, 1539], [1577.3, 1641]]],
];
const XLABEL_Y = [
  [[112, 209, 308], [110.7, 206, 304], [118, 226.7, 331]],
  [[457.7, 562, 665], [459.3, 564, 668.3], [460.7, 567.7, 673]],
  [[811, 906, 1005], [812, 910, 1008], [802.7, 894, 984]],
  [[1128, 1217.3, 1307.3], [1128, 1218.3, 1307.7], [1129, 1218.3, 0]],
  [[1440.3, 1525, 1613.3], [1444, 1533.3, 1622.7], [1457, 1558.3, 1661]],
];
const XLABEL_FS = [
  [11.5, 11.5, 11.5], [9.5, 11.5, 11.5], [9.5, 9.5, 9.5],
  [11.5, 11.5, 11.5], [11.5, 11.5, 11.5], [11.5, 11.5, 11.5],
  [11.5, 11.5, 11.5], [11.5, 11.5, 11.5], [11.5, 11.5, 11.5],
  [11.5, 11.5, 11.5], [11.5, 11.5, 11.5], [11.5, 11.5, 11.5],
  [11.5, 11.5, 11.5], [11.5, 11.5, 11.5], [11.5, 11.5, 11.5],
];
const TITLE_POS = [
  [205.5, 17.3], [607, 17.3], [1018.4, 17.3],
  [196, 359], [606, 359], [1028.4, 359],
  [196, 719], [606, 718], [1028.4, 717.3],
  [196, 1042.7], [611, 1042.7], [1026.5, 1042.7],
  [197.5, 1357.7], [610, 1359], [1028.4, 1361],
];

const YW = 40;
const PT = 10;
const PR = 14;
const PB = 4;
const TICK_LEN = 3;
const TICK_FS = 10.5;

function geometry(idx: number) {
  const g = Math.floor(idx / 9);
  const c = Math.floor((idx % 9) / 3);
  const s = idx % 3;
  const [l, r] = GROUP_COLS[g][c];
  const [t, b] = GROUP_ROWS[g][c][s];
  const L = Math.round(l), R = Math.round(r), T = Math.round(t), B = Math.round(b);
  const label = XLABELS[g * 3 + c][s];
  const fs = XLABEL_FS[g * 3 + c][s];
  const xh = label ? Math.round(XLABEL_Y[g][c][s] - B + 0.6 * fs) : 18;
  return { left: L - YW, top: T - PT, cw: YW + (R - L) + PR, ch: PT + (B - T) + xh + PB, xh, fs, label };
}

const framePlugin = {
  id: "matlabFrame",
  afterDatasetsDraw(chart: any) {
    const { ctx, chartArea: a, scales } = chart;
    const xs = scales.x;
    const ys = scales.y;
    ctx.save();
    ctx.strokeStyle = FRAME;
    ctx.lineWidth = 1;
    ctx.beginPath();
    xs.ticks.forEach((tk: any) => {
      const px = Math.round(xs.getPixelForValue(tk.value)) + 0.5;
      ctx.moveTo(px, a.bottom);
      ctx.lineTo(px, a.bottom - TICK_LEN);
      ctx.moveTo(px, a.top);
      ctx.lineTo(px, a.top + TICK_LEN);
    });
    ys.ticks.forEach((tk: any) => {
      const py = Math.round(ys.getPixelForValue(tk.value)) + 0.5;
      ctx.moveTo(a.left, py);
      ctx.lineTo(a.left + TICK_LEN, py);
      ctx.moveTo(a.right, py);
      ctx.lineTo(a.right - TICK_LEN, py);
    });
    ctx.stroke();
    ctx.strokeRect(a.left + 0.5, a.top + 0.5, a.right - a.left - 1, a.bottom - a.top - 1);
    ctx.restore();
  },
};

function Panel({ idx }: { idx: number }) {
  const ref = useRef<HTMLCanvasElement | null>(null);
  const geo = geometry(idx);

  useEffect(() => {
    if (!ref.current) return;
    const [xmin, xmax] = X_RANGES[idx];
    const xLabels = X_TICKS[idx];
    const yLabels = Y_TICKS[idx];
    const ymax = Y_MAX[idx];
    const [start, width] = BINS[idx];
    const bars = HEIGHTS[idx].map((h, i) => ({ x: start + width * (i + 0.5), y: h }));
    const [mx, mtop] = MARKERS[idx];
    const tickFont = { family: FONT, size: TICK_FS };

    const chart = new Chart(ref.current, {
      type: "bar",
      data: {
        datasets: [
          {
            type: "bar",
            data: bars,
            backgroundColor: BAR,
            borderWidth: 0,
            inflateAmount: 0.7,
            barPercentage: 1,
            categoryPercentage: 1,
            grouped: false,
            order: 2,
          } as any,
          {
            type: "line",
            data: [{ x: mx, y: 0 }, { x: mx, y: mtop }],
            borderColor: "#000000",
            borderWidth: 2.5,
            pointRadius: 0,
            fill: false,
            order: 1,
          } as any,
        ],
      },
      options: {
        animation: false,
        responsive: false,
        devicePixelRatio: 1,
        events: [],
        layout: { padding: { left: 0, right: PR, top: PT, bottom: PB } },
        plugins: { legend: { display: false }, tooltip: { enabled: false }, title: { display: false } },
        scales: {
          x: {
            type: "linear",
            min: xmin,
            max: xmax,
            offset: false,
            grid: { display: false, drawTicks: false },
            border: { display: false },
            afterBuildTicks: (ax: any) => {
              ax.ticks = xLabels.map((_, i) => ({ value: xmin + (i * (xmax - xmin)) / (xLabels.length - 1) }));
            },
            afterFit: (ax: any) => {
              ax.height = geo.xh;
            },
            ticks: {
              autoSkip: false,
              maxRotation: 0,
              minRotation: 0,
              padding: 2,
              color: "#000000",
              font: tickFont,
              callback: (_v: any, i: number) => xLabels[i],
            },
            title: {
              display: !!geo.label,
              text: geo.label,
              color: "#000000",
              font: { family: FONT, size: geo.fs },
              padding: { top: 0, bottom: 0 },
            },
          } as any,
          y: {
            type: "linear",
            min: 0,
            max: ymax,
            grid: { display: false, drawTicks: false },
            border: { display: false },
            afterBuildTicks: (ax: any) => {
              ax.ticks = yLabels.map((_, i) => ({ value: (i * ymax) / (yLabels.length - 1) }));
            },
            afterFit: (ax: any) => {
              ax.width = YW;
            },
            ticks: {
              autoSkip: false,
              padding: 2,
              color: "#000000",
              font: tickFont,
              callback: (_v: any, i: number) => yLabels[i],
            },
          } as any,
        },
      },
      plugins: [framePlugin],
    });
    return () => chart.destroy();
  }, [idx]);

  return (
    <canvas
      ref={ref}
      width={geo.cw}
      height={geo.ch}
      style={{ position: "absolute", left: geo.left, top: geo.top, width: geo.cw, height: geo.ch }}
    />
  );
}

export default function App() {
  const panels = HEIGHTS.map((_, i) => i);
  return (
    <div
      style={{
        position: "absolute",
        left: 0,
        top: 0,
        width: 1192,
        height: 1657,
        overflow: "hidden",
        background: "#ffffff",
        fontFamily: FONT,
      }}
    >
      {REACTIONS.map((name, i) => (
        <div
          key={"t" + i}
          style={{
            position: "absolute",
            left: TITLE_POS[i][0],
            top: TITLE_POS[i][1],
            transform: "translate(-50%, -50%)",
            fontSize: 9.5,
            fontWeight: BOLD_TITLES.includes(name) ? "bold" : "normal",
            whiteSpace: "nowrap",
            color: "#111111",
            lineHeight: "12px",
          }}
        >
          {name}
        </div>
      ))}
      {panels.map((i) => (
        <Panel key={i} idx={i} />
      ))}
    </div>
  );
}
